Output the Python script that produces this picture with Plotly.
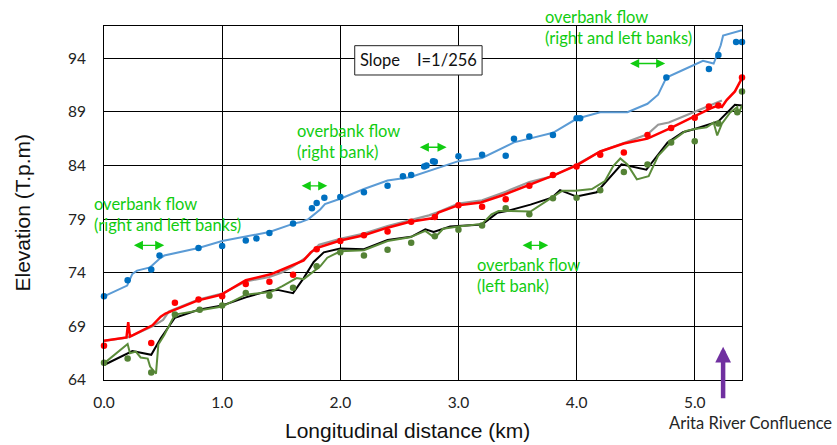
import plotly.graph_objects as go

# ---------------- data ----------------
blue_x = [0.0, 0.196, 0.24, 0.28, 0.39, 0.47, 0.51, 0.80, 1.0, 1.20, 1.40, 1.61, 1.66, 1.73, 1.83, 1.87, 2.0, 2.2, 2.4,
          2.59, 2.71, 2.82, 3.0, 3.2, 3.40, 3.47, 3.60, 3.80, 4.0, 4.2, 4.43, 4.6, 4.69, 4.76, 4.9, 5.07, 5.16, 5.22,
          5.24, 5.31, 5.40]
blue_y = [71.8, 72.8, 73.9, 74.2, 74.5, 75.3, 75.6, 76.3, 76.95, 77.4, 77.8, 78.6, 78.7, 79.0, 79.9, 80.4, 80.9, 81.8,
          82.6, 82.9, 83.35, 83.8, 84.4, 84.7, 85.8, 86.15, 86.5, 87.05, 88.35, 88.95, 88.97, 89.75, 90.6, 92.2, 92.9,
          93.75, 93.5, 95.2, 96.1, 96.35, 96.6]

blue_dot_x = [0.0, 0.20, 0.40, 0.47, 0.80, 1.0, 1.20, 1.29, 1.40, 1.60, 1.76, 1.80, 1.865, 2.0, 2.20, 2.40, 2.53, 2.60,
              2.71, 2.73, 2.785, 2.80, 3.0, 3.2, 3.40, 3.47, 3.60, 3.80, 4.0, 4.03, 4.76, 5.12, 5.20, 5.35, 5.40]
blue_dot_y = [71.8, 73.3, 74.3, 75.6, 76.3, 76.5, 77.0, 77.2, 77.7, 78.6, 80.0, 80.5, 81.0, 81.05, 81.5, 82.1, 83.0, 83.1,
              83.9, 84.0, 84.4, 84.35, 84.85, 85.0, 84.9, 86.5, 86.7, 86.85, 88.4, 88.4, 92.2, 93.0, 94.3, 95.5, 95.5]

gray_x = [0.0, 0.19, 0.25, 0.41, 0.5, 0.55, 0.8, 1.0, 1.2, 1.4, 1.5, 1.6, 1.72, 1.82, 2.0, 2.2, 2.4, 2.6, 2.75, 2.83,
          3.0, 3.2, 3.4, 3.6, 3.8, 4.0, 4.2, 4.4, 4.6, 4.69, 4.78, 5.0, 5.2, 5.23]
gray_y = [67.65, 67.95, 68.2, 69.0, 69.6, 70.4, 71.5, 72.05, 73.2, 73.6, 74.0, 74.6, 75.5, 76.6, 77.15, 77.65, 78.35,
          78.9, 79.35, 79.65, 80.45, 80.75, 81.55, 82.45, 83.0, 84.1, 85.3, 86.1, 86.9, 87.8, 88.0, 89.0, 89.9, 90.05]

red_x = [0.0, 0.19, 0.205, 0.22, 0.25, 0.41, 0.48, 0.52, 0.79, 0.99, 1.20, 1.32, 1.41, 1.51, 1.61, 1.69, 1.75, 1.80,
         2.0, 2.2, 2.4, 2.59, 2.79, 2.83, 3.0, 3.19, 3.38, 3.61, 3.79, 4.0, 4.2, 4.4, 4.6, 4.79, 5.0, 5.13, 5.20, 5.23,
         5.27, 5.34, 5.40]
red_y = [67.65, 67.96, 69.4, 68.05, 68.2, 69.1, 69.9, 70.2, 71.4, 71.95, 73.3, 73.6, 73.85, 74.3, 74.75, 75.15, 75.9,
         76.3, 77.0, 77.5, 78.2, 78.75, 79.1, 79.6, 80.3, 80.55, 81.25, 82.2, 83.0, 84.0, 85.3, 86.05, 86.5, 87.45,
         88.6, 89.3, 89.6, 89.45, 90.1, 90.9, 92.15]

red_dot_x = [0.0, 0.40, 0.60, 0.80, 1.0, 1.2, 1.4, 1.6, 1.8, 2.0, 2.2, 2.4, 2.6, 2.8, 3.0, 3.2, 3.4, 3.6, 3.8, 4.0,
             4.2, 4.4, 4.6, 4.8, 5.0, 5.12, 5.20, 5.40]
red_dot_y = [67.2, 67.45, 71.2, 71.5, 71.8, 72.95, 73.15, 73.8, 76.2, 76.95, 77.5, 77.85, 78.75, 79.2, 80.3, 80.15,
             80.85, 82.1, 83.1, 83.9, 85.0, 85.2, 86.85, 87.5, 88.45, 89.5, 89.6, 92.2]

black_x = [0.0, 0.24, 0.40, 0.48, 0.60, 0.80, 1.0, 1.20, 1.40, 1.47, 1.60, 1.69, 1.775, 1.86, 2.0, 2.2, 2.40, 2.60,
           2.72, 2.79, 2.93, 3.2, 3.33, 3.41, 3.61, 3.79, 3.86, 4.0, 4.17, 4.38, 4.59, 4.77, 4.9, 5.0, 5.20, 5.34, 5.40]
black_y = [65.4, 66.7, 66.35, 67.9, 69.8, 70.55, 70.95, 71.7, 72.35, 72.4, 72.1, 73.5, 75.0, 75.9, 76.25, 76.2, 77.05,
           77.35, 78.05, 77.8, 78.3, 78.5, 79.6, 79.75, 80.35, 81.0, 81.7, 81.1, 81.5, 84.1, 83.6, 86.15, 87.1, 87.4,
           88.1, 89.65, 89.6]

green_x = [0.0, 0.20, 0.22, 0.27, 0.31, 0.37, 0.39, 0.44, 0.46, 0.51, 0.60, 0.80, 1.0, 1.20, 1.41, 1.51, 1.63, 1.69,
           1.78, 1.83, 1.89, 2.0, 2.2, 2.4, 2.59, 2.72, 2.80, 2.87, 3.0, 3.2, 3.28, 3.34, 3.44, 3.61, 3.79, 3.88, 3.99,
           4.13, 4.24, 4.31, 4.37, 4.43, 4.51, 4.61, 4.69, 4.81, 4.92, 5.0, 5.10, 5.16, 5.19, 5.23, 5.30, 5.36, 5.37,
           5.40]
green_y = [65.55, 67.35, 66.5, 66.65, 66.1, 66.0, 65.25, 64.6, 67.3, 68.2, 70.1, 70.5, 70.85, 71.95, 72.2, 72.75, 73.5,
           73.4, 74.2, 74.6, 75.4, 76.0, 76.1, 76.95, 77.3, 77.9, 77.25, 78.1, 78.3, 78.55, 79.45, 79.75, 79.75, 79.7,
           81.0, 81.65, 81.65, 81.8, 82.55, 83.95, 84.65, 84.1, 82.7, 83.0, 84.9, 86.3, 87.2, 87.4, 87.55, 88.0, 86.8,
           87.9, 88.95, 89.45, 88.8, 89.6]

green_dot_x = [0.0, 0.2, 0.40, 0.60, 0.81, 1.0, 1.2, 1.40, 1.60, 1.80, 2.0, 2.2, 2.4, 2.6, 2.8, 3.0, 3.2, 3.4, 3.6,
               3.8, 4.0, 4.2, 4.4, 4.6, 4.8, 5.0, 5.2, 5.36, 5.40]
green_dot_y = [65.6, 66.0, 64.7, 70.1, 70.55, 70.95, 72.1, 71.85, 72.6, 74.6, 75.9, 75.6, 76.15, 76.8, 77.4, 78.0,
               78.4, 80.0, 79.45, 80.95, 81.0, 81.7, 83.4, 84.1, 86.15, 86.25, 87.9, 88.95, 90.9]

# overbank-flow ranges (start km, end km, elevation of marker)
overbank_start = [0.24, 1.66, 2.66, 3.53, 4.44]
overbank_end = [0.51, 1.89, 2.90, 3.76, 4.75]
overbank_level = [76.55, 82.1, 85.7, 76.55, 93.5]

x_ticks = [0, 1, 2, 3, 4, 5]
x_tick_text = ["0.0", "1.0", "2.0", "3.0", "4.0", "5.0"]
y_ticks = [64, 69, 74, 79, 84, 89, 94]

confluence_km = 5.24

# ---------------- figure ----------------
TXT = "Lato"
GREEN_TXT = "#11CC11"

fig = go.Figure()

def line(x, y, color, width):
    fig.add_trace(go.Scatter(x=x, y=y, mode="lines", line=dict(color=color, width=width),
                             cliponaxis=False, showlegend=False, hoverinfo="skip"))

def dots(x, y, color):
    fig.add_trace(go.Scatter(x=x, y=y, mode="markers", marker=dict(color=color, size=6.5),
                             cliponaxis=False, showlegend=False, hoverinfo="skip"))

line(blue_x, blue_y, "#5B9BD5", 2)
line(gray_x, gray_y, "#999999", 2.2)
line(red_x, red_y, "#FF0000", 2.5)
line(black_x, black_y, "#000000", 2)
line(green_x, green_y, "#5B8C3A", 2)
dots(blue_dot_x, blue_dot_y, "#0070C0")
dots(red_dot_x, red_dot_y, "#FF0000")
dots(green_dot_x, green_dot_y, "#548235")

annotations = []
for xs, xe, yl in zip(overbank_start, overbank_end, overbank_level):
    annotations.append(dict(x=xe, y=yl, ax=xs, ay=yl, xref="x", yref="y", axref="x", ayref="y",
                            text="", showarrow=True, arrowside="end+start", arrowhead=2,
                            arrowsize=1.3, arrowwidth=1.4, arrowcolor=GREEN_TXT))

labels = [
    ("overbank flow<br>(right and left banks)", -0.0195, 0.4675),
    ("overbank flow<br>(right bank)", 0.2997, 0.675),
    ("overbank flow<br>(right and left banks)", 0.6878, 0.997),
    ("overbank flow<br>(left bank)", 0.5822, 0.2952),
]
for t, px, py in labels:
    annotations.append(dict(text=t, x=px, y=py, xref="paper", yref="paper", xanchor="left",
                            yanchor="middle", align="left", showarrow=False,
                            font=dict(family=TXT, size=16.5, color=GREEN_TXT)))

# slope box text
annotations.append(dict(text="Slope&nbsp;&nbsp;&nbsp;&nbsp;I=1/256", x=0.4928, y=0.903, xref="paper",
                        yref="paper", xanchor="center", yanchor="middle", showarrow=False,
                        font=dict(family=TXT, size=16.5, color="#111111")))

# confluence arrow + label
annotations.append(dict(x=confluence_km, y=67.1, xref="x", yref="y", ax=0, ay=53, text="",
                        showarrow=True, arrowhead=2, arrowsize=0.7, arrowwidth=4.5, arrowcolor="#7030A0"))
annotations.append(dict(text="Arita River Confluence", x=1.0138, y=-0.1215, xref="paper", yref="paper",
                        xanchor="center", yanchor="middle", showarrow=False, borderpad=0,
                        font=dict(family=TXT, size=16.5, color="#262626")))

# axis titles
annotations.append(dict(text="Longitudinal distance (km)", x=0.4756, y=-0.144, xref="paper", yref="paper",
                        xanchor="center", yanchor="middle", showarrow=False,
                        font=dict(family="Liberation Sans, Arial", size=21, color="#111111")))
annotations.append(dict(text="Elevation (T.p.m)", x=-0.1277, y=0.4718, xref="paper", yref="paper",
                        xanchor="center", yanchor="middle", showarrow=False, textangle=-90,
                        font=dict(family="Liberation Sans, Arial", size=21, color="#111111")))

fig.update_layout(
    width=837, height=445,
    margin=dict(l=104, r=95, t=26, b=65, pad=0),
    paper_bgcolor="white", plot_bgcolor="white",
    showlegend=False,
    annotations=annotations,
    shapes=[dict(type="rect", xref="paper", yref="paper", x0=0.393, x1=0.5926, y0=0.8616, y1=0.9444,
                 line=dict(color="#222222", width=1), fillcolor="white", layer="above")],
    xaxis=dict(range=[0, 5.4], tickvals=x_ticks, ticktext=x_tick_text, showgrid=True,
               gridcolor="#000000", gridwidth=1, showline=True, linecolor="#000000", linewidth=1,
               mirror=True, ticks="", ticklabelstandoff=8, zeroline=False,
               tickfont=dict(family=TXT, size=15.5, color="#222222")),
    yaxis=dict(range=[64, 97], tickvals=y_ticks, showgrid=True, gridcolor="#000000", gridwidth=1,
               showline=True, linecolor="#000000", linewidth=1, mirror=True, ticks="",
               ticklabelstandoff=14, zeroline=False,
               tickfont=dict(family=TXT, size=15.5, color="#222222")),
)

fig.write_html("out.html")
